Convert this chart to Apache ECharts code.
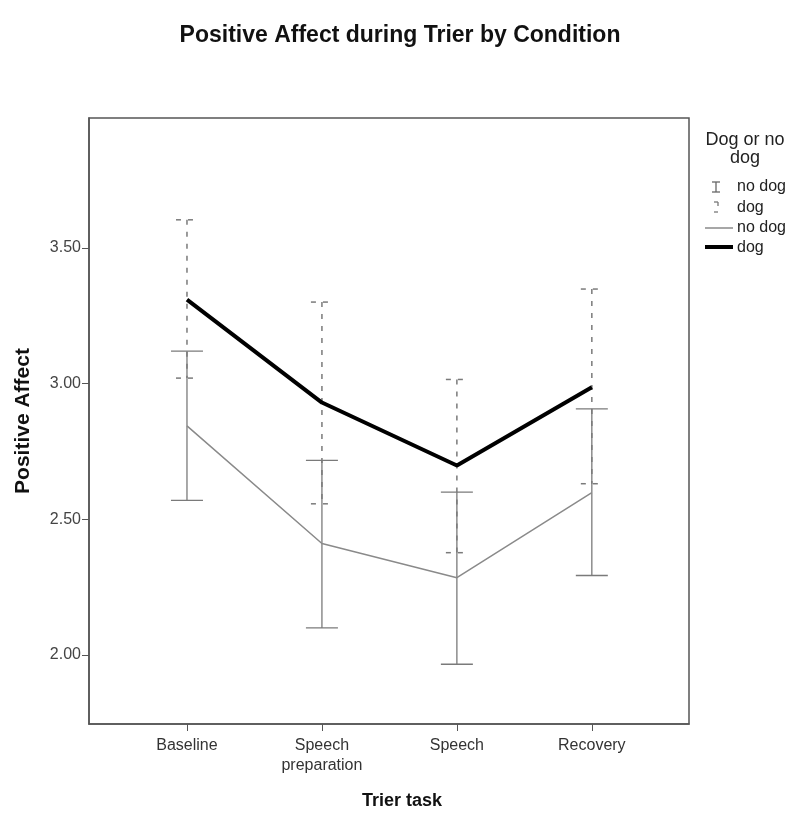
<!DOCTYPE html>
<html>
<head>
<meta charset="utf-8">
<script src="https://cdn.jsdelivr.net/npm/echarts@6/dist/echarts.min.js"></script>
<style>html,body{margin:0;padding:0;background:#fff}#c{width:800px;height:824px}</style>
</head>
<body>
<div id="c"></div>
<script>
const categories = ['Baseline', 'Speech\npreparation', 'Speech', 'Recovery'];
const yTicks = [2.0, 2.5, 3.0, 3.5];
const meanNoDog = [2.844, 2.411, 2.285, 2.598];
const meanDog = [3.309, 2.930, 2.698, 2.986];
const lowNoDog = [2.570, 2.100, 1.966, 2.293];
const highNoDog = [3.119, 2.717, 2.600, 2.907];
const lowDog = [3.020, 2.557, 2.377, 2.631];
const highDog = [3.603, 3.300, 3.015, 3.348];

const xs = categories.map((_, i) => i + 1);
const chart = echarts.init(document.getElementById('c'), null, {renderer: 'canvas'});
const FONT = 'Arial, "Liberation Sans", sans-serif';

function errSeries(name, low, high, dashed, z) {
  return {
    name, type: 'custom', z,
    data: xs.map((x, i) => [x, low[i], high[i]]),
    renderItem: function (params, api) {
      const top = api.coord([api.value(0), api.value(2)]);
      const bot = api.coord([api.value(0), api.value(1)]);
      const col = '#7a7a7a';
      const children = [];
      if (dashed) {
        const st = {stroke: col, lineWidth: 1.5, lineDash: [5, 7]};
        children.push({type: 'line', shape: {x1: top[0], y1: top[1], x2: bot[0], y2: bot[1]}, style: st});
        [top, bot].forEach(p => {
          children.push({type: 'line', shape: {x1: p[0] - 11, y1: p[1], x2: p[0] - 6, y2: p[1]}, style: {stroke: col, lineWidth: 1.5}});
          children.push({type: 'line', shape: {x1: p[0] + 1, y1: p[1], x2: p[0] + 6, y2: p[1]}, style: {stroke: col, lineWidth: 1.5}});
        });
      } else {
        const st = {stroke: col, lineWidth: 1.3};
        children.push({type: 'line', shape: {x1: top[0], y1: top[1], x2: bot[0], y2: bot[1]}, style: st});
        [top, bot].forEach(p => {
          children.push({type: 'line', shape: {x1: p[0] - 16, y1: p[1], x2: p[0] + 16, y2: p[1]}, style: st});
        });
      }
      return {type: 'group', children};
    }
  };
}

const option = {
  animation: false,
  backgroundColor: '#fff',
  title: {
    text: 'Positive Affect during Trier by Condition',
    left: 'center', top: 19,
    textStyle: {fontFamily: FONT, fontSize: 23, fontWeight: 'bold', color: '#111'}
  },
  grid: {left: 89, right: 111, top: 118, bottom: 100, outerBoundsMode: 'none', containLabel: false, show: true, borderColor: '#555', borderWidth: 1.5, backgroundColor: 'transparent'},
  xAxis: {
    type: 'value', min: 0.274, max: 4.72,
    splitLine: {show: false},
    axisLine: {show: true, lineStyle: {color: '#555', width: 1.5}},
    axisTick: {show: true, length: 7, lineStyle: {color: '#555'}, customValues: xs},
    axisLabel: {customValues: xs, formatter: v => categories[Math.round(v) - 1] || '', fontFamily: FONT, fontSize: 16, color: '#333', margin: 12, lineHeight: 20}
  },
  yAxis: {
    type: 'value', min: 1.746, max: 3.978,
    name: 'Positive Affect', nameLocation: 'middle', nameGap: 55, nameRotate: 90,
    nameTextStyle: {fontFamily: FONT, fontSize: 21, fontWeight: 'bold', color: '#111'},
    splitLine: {show: false},
    axisLine: {show: true, lineStyle: {color: '#555', width: 1.5}},
    axisTick: {show: true, length: 7, lineStyle: {color: '#555'}, customValues: yTicks},
    axisLabel: {customValues: yTicks, formatter: v => v.toFixed(2), fontFamily: FONT, fontSize: 16, color: '#444', margin: 8}
  },
  series: [
    errSeries('dogErr', lowDog, highDog, true, 2),
    errSeries('noDogErr', lowNoDog, highNoDog, false, 3),
    {
      name: 'no dog', type: 'line', z: 4, symbol: 'none',
      data: xs.map((x, i) => [x, meanNoDog[i]]),
      lineStyle: {color: '#8a8a8a', width: 1.5}
    },
    {
      name: 'dog', type: 'line', z: 5, symbol: 'none',
      data: xs.map((x, i) => [x, meanDog[i]]),
      lineStyle: {color: '#000', width: 4}
    }
  ],
  graphic: [
    {type: 'text', x: 402, y: 801, style: {text: 'Trier task', font: 'bold 18px ' + FONT, fill: '#111', align: 'center', verticalAlign: 'middle'}},
    {type: 'text', x: 745, y: 140, style: {text: 'Dog or no', font: '18px ' + FONT, fill: '#222', align: 'center', verticalAlign: 'middle'}},
    {type: 'text', x: 745, y: 158, style: {text: 'dog', font: '18px ' + FONT, fill: '#222', align: 'center', verticalAlign: 'middle'}},
    // no dog error bar icon
    {type: 'line', shape: {x1: 716, y1: 182, x2: 716, y2: 192}, style: {stroke: '#666', lineWidth: 1.3}},
    {type: 'line', shape: {x1: 712, y1: 182, x2: 720, y2: 182}, style: {stroke: '#666', lineWidth: 1.3}},
    {type: 'line', shape: {x1: 712, y1: 192, x2: 720, y2: 192}, style: {stroke: '#666', lineWidth: 1.3}},
    {type: 'text', x: 737, y: 187, style: {text: 'no dog', font: '16px ' + FONT, fill: '#222', verticalAlign: 'middle'}},
    // dog error bar icon
    {type: 'line', shape: {x1: 714, y1: 202, x2: 718, y2: 202}, style: {stroke: '#777', lineWidth: 1.3}},
    {type: 'line', shape: {x1: 718, y1: 202, x2: 718, y2: 206}, style: {stroke: '#777', lineWidth: 1.3}},
    {type: 'line', shape: {x1: 714, y1: 212, x2: 718, y2: 212}, style: {stroke: '#777', lineWidth: 1.3}},
    {type: 'text', x: 737, y: 208, style: {text: 'dog', font: '16px ' + FONT, fill: '#222', verticalAlign: 'middle'}},
    // line icons
    {type: 'line', shape: {x1: 705, y1: 228, x2: 733, y2: 228}, style: {stroke: '#8a8a8a', lineWidth: 1.5}},
    {type: 'text', x: 737, y: 228, style: {text: 'no dog', font: '16px ' + FONT, fill: '#222', verticalAlign: 'middle'}},
    {type: 'line', shape: {x1: 705, y1: 247, x2: 733, y2: 247}, style: {stroke: '#000', lineWidth: 4}},
    {type: 'text', x: 737, y: 248, style: {text: 'dog', font: '16px ' + FONT, fill: '#222', verticalAlign: 'middle'}}
  ]
};
chart.setOption(option);
</script>
</body>
</html>
